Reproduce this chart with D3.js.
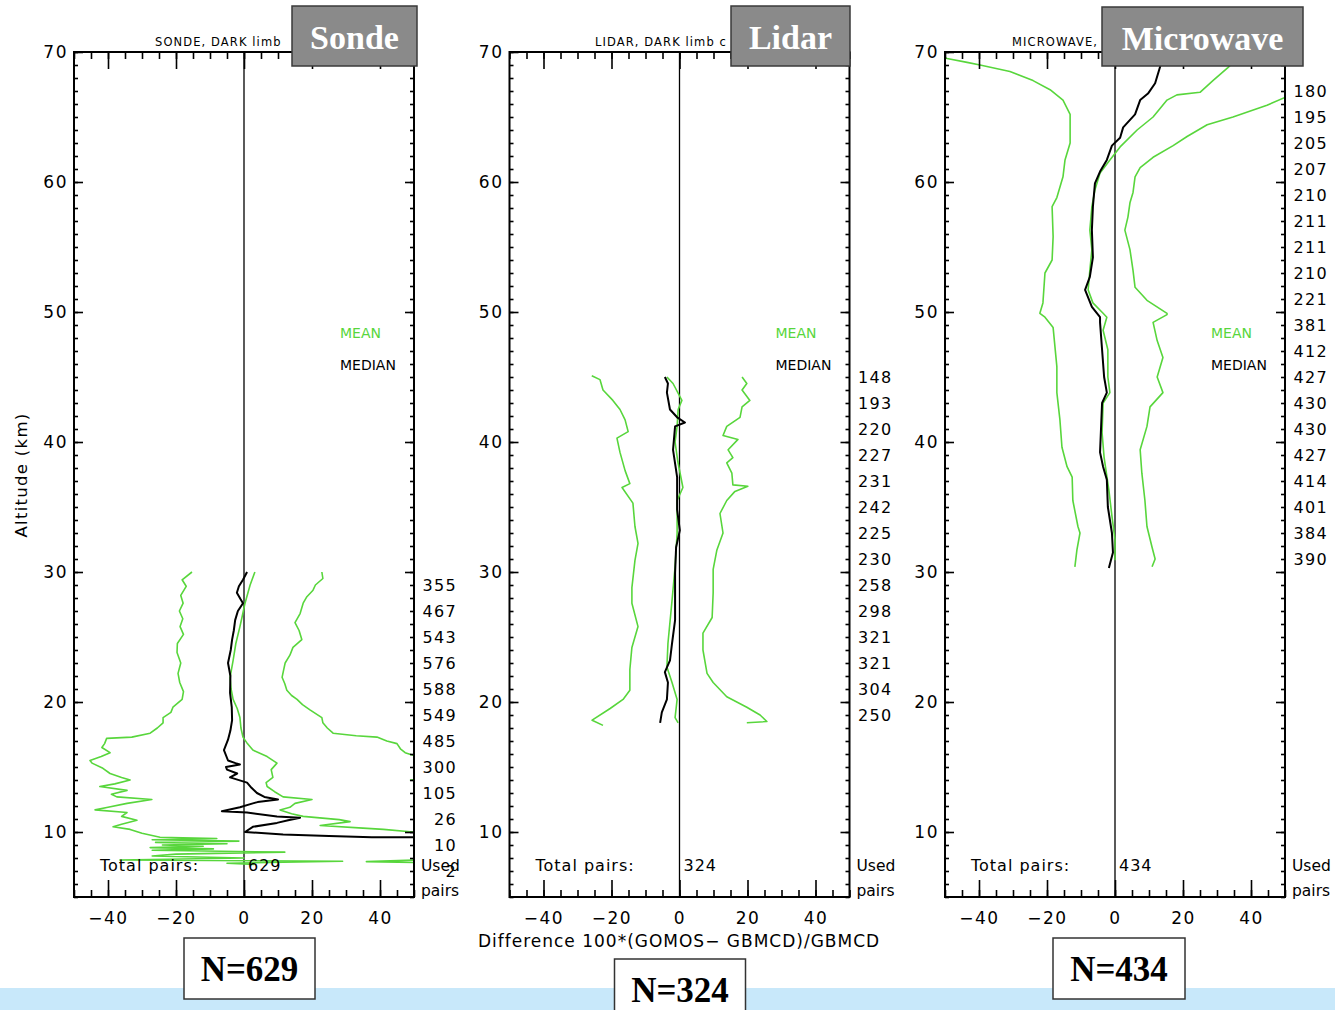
<!DOCTYPE html>
<html>
<head>
<meta charset="utf-8">
<script src="https://cdn.jsdelivr.net/npm/d3@7"></script>
<style>
  html, body { margin: 0; padding: 0; background: #ffffff; }
  svg { display: block; }
</style>
</head>
<body>
<svg id="chart" width="1335" height="1010" font-family="DejaVu Sans, sans-serif"></svg>
<script>
// ---- Data: relative difference profiles, [altitude km, difference %] ----
const sondeLow = [[30.0,-15.3],[29.4,-18.2],[28.9,-17.0],[28.2,-18.6],[27.6,-17.9],[27.0,-19.0],[26.4,-18.0],[25.8,-18.8],[25.2,-17.8],[24.5,-19.6],[23.8,-19.7],[23.0,-18.6],[22.2,-19.4],[21.5,-18.9],[20.8,-17.8],[20.2,-18.2],[19.6,-20.9],[19.2,-21.5],[18.8,-23.8],[18.4,-23.8],[18.0,-25.5],[17.6,-27.6],[17.3,-33],[17.2,-40.4],[16.8,-41],[16.5,-41.8],[16.1,-39.4],[15.8,-42],[15.5,-45.3],[15.3,-44.7],[14.9,-41.5],[14.5,-39.4],[14.2,-36],[14.0,-33.5],[13.7,-38],[13.5,-42.4],[13.2,-34.4],[12.9,-39],[12.7,-37.4],[12.5,-27.1],[12.2,-34.4],[11.9,-40],[11.7,-43.8],[11.5,-34.4],[11.2,-36],[10.9,-31.5],[10.6,-36],[10.4,-38.5],[10.2,-33.5],[9.9,-30],[9.6,-24.7],[9.5,-8],[9.4,-27],[9.3,-1.5],[9.2,-26],[9.1,-5],[9.0,-24],[8.9,-12],[8.8,-27.6],[8.7,-9],[8.6,-27],[8.45,12],[8.3,-20],[8.15,-27],[8.0,0],[7.85,-36.5],[7.75,29],[7.6,-5],[7.5,3]];
const sondeMean = [[30.0,3.2],[29.0,1.8],[27.6,0.3],[26.5,-0.6],[25.8,-1.2],[24.5,-2.4],[23.2,-3.2],[21.9,-4.1],[21.0,-3.8],[20.2,-3.2],[19.5,-2.0],[18.8,-1.2],[18.0,-0.9],[17.3,-0.3],[16.8,1.0],[16.3,2.6],[15.8,6.8],[15.3,9.7],[14.8,8.0],[14.2,8.5],[13.8,6.5],[13.5,6.8],[13.1,9],[12.7,11.5],[12.5,20],[12.2,15],[11.9,13.5],[11.7,10.6],[11.4,14],[11.2,17.4],[10.95,28],[10.8,31.2],[10.5,22.4],[10.3,35],[10.2,41],[10.0,49.7],[9.8,56],[9.0,65],[7.9,58],[7.72,36],[7.6,62]];
const sondeMedian = [[30.0,0.9],[29.4,-0.3],[28.9,-1.5],[28.4,-2.1],[27.9,-1.0],[27.6,-0.3],[27.0,-1.8],[26.3,-2.6],[25.5,-3.0],[24.8,-3.5],[24.0,-3.9],[23.0,-4.7],[22.0,-4.0],[20.7,-4.1],[19.6,-3.6],[18.6,-3.5],[17.8,-4.0],[17.1,-4.7],[16.3,-5.9],[15.5,-4.7],[15.3,-2.5],[15.2,-1.2],[15.0,-5.3],[14.8,-5.0],[14.5,-2.0],[14.2,-4.1],[13.8,0.9],[13.4,2.2],[13.0,3.8],[12.7,6],[12.5,10],[12.3,4],[12.2,2.6],[11.9,-1.2],[11.6,-6.5],[11.5,0.9],[11.2,9.7],[11.1,16.5],[10.9,13],[10.7,9.7],[10.4,2.6],[10.0,0.3],[9.8,11.5],[9.7,25],[9.6,37.6],[9.58,60]];
const sondeHigh = [[30.0,22.9],[29.5,23.2],[29.0,21.0],[28.6,20.3],[28.1,18.5],[27.6,17.4],[26.8,16.5],[26.1,15.0],[25.5,16.2],[24.8,17.0],[24.2,14.4],[23.6,13.5],[23.0,12.1],[22.4,11.6],[21.9,11.2],[21.4,12.0],[20.9,12.6],[20.5,14.0],[20.2,15.6],[19.8,17.2],[19.4,19.4],[18.8,22.9],[18.4,23.2],[18.0,24.5],[17.6,26.2],[17.4,33],[17.3,39.1],[17.0,42],[16.8,45],[16.4,46],[16.1,47.4],[15.9,49.7],[15.6,53],[14.3,56],[14.0,49],[13.8,56],[12.0,70]];

const lidarLow = [[45.1,-25.8],[44.8,-23.4],[44.0,-22.5],[43.2,-19.6],[42.5,-17.5],[41.7,-16.0],[40.8,-15.1],[40.3,-18.4],[39.2,-17.5],[37.8,-16.0],[36.8,-14.6],[36.5,-16.9],[35.3,-13.7],[33.5,-13.1],[32.2,-12.2],[30.9,-13.1],[28.8,-14.0],[27.6,-14.0],[25.8,-12.2],[24.2,-14.0],[22.5,-14.6],[20.9,-14.6],[20.2,-16.6],[19.5,-20.4],[18.6,-25.7],[18.2,-22.5]];
const lidarMean = [[45.0,-3.7],[44.5,-1.9],[43.2,0.7],[42.5,-0.4],[41.2,-0.7],[40.0,-1.3],[38.5,-0.5],[36.5,1.0],[35.5,-0.7],[33.0,-0.7],[30.4,-1.3],[27.8,-2.2],[24.5,-3.4],[22.7,-3.7],[21.5,-2.2],[20.2,-0.7],[18.8,-1.3],[18.4,-0.4]];
const lidarMedian = [[45.0,-4.3],[44.5,-3.4],[43.8,-3.7],[42.5,-2.8],[41.9,-0.7],[41.5,1.6],[41.2,-1.3],[39.4,-1.9],[37.3,-0.7],[34.8,-0.7],[33.2,0.1],[31.9,-1.0],[29.9,-1.3],[26.3,-1.3],[24.5,-2.2],[23.2,-2.8],[22.3,-4.3],[21.5,-3.4],[20.2,-3.7],[19.2,-5.2],[18.4,-5.7]];
const lidarHigh = [[45.0,18.4],[44.5,19.8],[44.0,18.4],[43.2,20.7],[42.7,18.4],[41.9,17.8],[41.2,13.9],[40.5,12.8],[40.2,17.2],[39.4,14.3],[38.8,15.7],[38.4,13.9],[37.6,15.4],[36.7,15.7],[36.6,20.1],[36.2,16.3],[35.5,13.9],[34.5,11.9],[33.0,12.8],[31.7,11.0],[30.2,9.9],[28.4,9.9],[26.5,9.6],[25.3,6.9],[24.0,6.9],[22.2,8.1],[21.5,9.9],[20.4,13.9],[19.6,19.8],[19.0,23.7],[18.5,25.7],[18.4,19.8]];

const mwLow = [[70.2,-55],[69.5,-49.4],[69.2,-43.5],[69.0,-39.7],[68.5,-30.9],[67.8,-24.1],[67.1,-19.1],[66.3,-15.3],[65.2,-13.2],[63.0,-13.2],[61.7,-14.7],[60.4,-15.3],[58.8,-17.1],[58.1,-18.5],[55.8,-18.2],[54.0,-18.5],[53.0,-20.6],[50.7,-21.2],[49.9,-22.1],[49.6,-20.6],[48.8,-18.2],[45.8,-17.1],[43.8,-17.1],[41.7,-16.2],[39.6,-15.6],[38.1,-14.1],[37.3,-12.6],[35.5,-12.4],[33.5,-10.9],[33.0,-10.3],[31.7,-11.2],[30.4,-11.8]];
const mwMean = [[70.0,38],[68.8,33.2],[67.8,28.8],[66.9,25.0],[66.7,18.2],[66.3,15.3],[65.0,11.2],[64.0,6.5],[62.7,1.5],[61.7,-1.5],[60.7,-4.4],[59.4,-5.9],[58.1,-6.8],[56.3,-7.4],[54.8,-6.8],[53.2,-7.4],[51.7,-7.9],[50.7,-6.5],[49.9,-3.5],[49.6,-2.4],[48.6,-3.5],[47.1,-2.1],[45.0,-2.1],[43.8,-1.5],[43.0,-3.5],[40.7,-3.8],[38.8,-3.2],[36.3,-1.8],[34.3,-0.9],[32.5,0.0],[30.9,0.0]];
const mwMedian = [[70.0,14.5],[68.8,13.2],[67.6,11.8],[66.8,9.7],[66.3,7.4],[65.2,5.9],[64.2,2.4],[63.4,1.5],[62.8,-0.9],[61.7,-2.4],[60.8,-4.4],[59.9,-5.9],[58.1,-6.5],[56.3,-6.8],[54.2,-6.5],[52.7,-7.4],[51.7,-8.8],[50.4,-6.8],[49.6,-4.4],[49.2,-4.4],[47.1,-3.8],[45.0,-3.2],[43.8,-2.4],[43.0,-3.8],[39.2,-4.4],[38.1,-3.5],[37.1,-2.4],[35.0,-2.1],[33.0,-0.9],[31.5,-0.6],[30.3,-1.8]];
const mwHigh = [[67.3,60],[66.5,50],[65.9,44.7],[65.0,34.7],[64.4,27.1],[63.5,21.2],[62.8,17.1],[61.9,11.2],[61.1,7.4],[60.4,5.9],[59.2,5.3],[58.4,4.4],[57.3,3.8],[56.3,2.9],[54.8,4.4],[53.2,5.3],[51.9,5.9],[50.9,9.4],[49.9,15.3],[49.8,15.3],[49.2,11.2],[47.8,12.4],[46.5,14.1],[45.0,12.4],[43.8,14.1],[42.7,10.3],[41.2,9.4],[39.4,7.4],[37.6,7.9],[35.5,8.8],[33.5,9.4],[31.9,10.9],[31.0,11.8],[30.4,10.9]];

// Used pairs per 2 km level
const sondePairAlt = [29,27,25,23,21,19,17,15,13,11,9,7];
const sondePairs   = [355,467,543,576,588,549,485,300,105,26,10,2];
const lidarPairAlt = [45,43,41,39,37,35,33,31,29,27,25,23,21,19];
const lidarPairs   = [148,193,220,227,231,242,225,230,258,298,321,321,304,250];
const mwPairAlt    = [67,65,63,61,59,57,55,53,51,49,47,45,43,41,39,37,35,33,31];
const mwPairs      = [180,195,205,207,210,211,211,210,221,381,412,427,430,430,427,414,401,384,390];

const panelNames    = ["Sonde", "Lidar", "Microwave"];
const panelCaptions = ["SONDE, DARK limb", "LIDAR, DARK limb c", "MICROWAVE,"];
const totalPairs    = [629, 324, 434];
const xTicksMajor   = [-40, -20, 0, 20, 40];
const yTicksMajor   = [10, 20, 30, 40, 50, 60, 70];

const GREEN = "#58d63c";
const SANS = "DejaVu Sans, sans-serif";
const SERIF = "Liberation Serif, serif";

// ---- Layout ----
const svg = d3.select("#chart");
const plotTop = 52, plotBottom = 897, plotW = 340;
const panelLeft = [74, 509.5, 945];
const boxes = [[292, 6, 125, 60], [731, 6, 119, 60], [1102, 7, 201, 59]];
const nBoxes = [[184, 938, 131, 61], [614.5, 959, 131, 60], [1053, 938, 132, 61]];
const captionX = [155, 595, 1012];

// light blue strip along the bottom edge
svg.append("rect").attr("x", 0).attr("y", 988).attr("width", 1335).attr("height", 22).attr("fill", "#c8e8fa");

const y = d3.scaleLinear().domain([5, 70]).range([plotBottom, plotTop]);

const panels = [
  { low: sondeLow, mean: sondeMean, median: sondeMedian, high: sondeHigh, pAlt: sondePairAlt, pairs: sondePairs },
  { low: lidarLow, mean: lidarMean, median: lidarMedian, high: lidarHigh, pAlt: lidarPairAlt, pairs: lidarPairs },
  { low: mwLow, mean: mwMean, median: mwMedian, high: mwHigh, pAlt: mwPairAlt, pairs: mwPairs }
];

const minus = s => String(s).replace("-", "\u2212");

panels.forEach((p, i) => {
  const L = panelLeft[i], R = L + plotW;
  const x = d3.scaleLinear().domain([-50, 50]).range([L, R]);
  const g = svg.append("g");

  const clipId = "clip" + i;
  svg.append("clipPath").attr("id", clipId)
    .append("rect").attr("x", L).attr("y", plotTop).attr("width", plotW).attr("height", plotBottom - plotTop);

  // caption above the frame
  g.append("text").attr("x", captionX[i]).attr("y", 46)
    .attr("font-size", 11.5).attr("letter-spacing", 1.1).attr("fill", "#000")
    .text(panelCaptions[i]);

  // zero reference line
  g.append("line").attr("x1", x(0)).attr("x2", x(0)).attr("y1", plotTop).attr("y2", plotBottom)
    .attr("stroke", "#000").attr("stroke-width", 1.3);

  // profiles
  const line = d3.line().x(d => x(d[1])).y(d => y(d[0]));
  const curves = g.append("g").attr("clip-path", `url(#${clipId})`).attr("fill", "none");
  [p.low, p.high, p.mean].forEach(s => {
    curves.append("path").attr("d", line(s)).attr("stroke", GREEN).attr("stroke-width", 1.6)
      .attr("stroke-linejoin", "round");
  });
  curves.append("path").attr("d", line(p.median)).attr("stroke", "#000").attr("stroke-width", 2)
    .attr("stroke-linejoin", "round");

  // axes: minor and major ticks pointing inward
  const xMinor = d3.range(-50, 51, 5);
  const yMinor = d3.range(5, 71, 1);
  const style = sel => {
    sel.attr("font-family", SANS);
    sel.select(".domain").remove();
    sel.selectAll("line").attr("stroke", "#000").attr("stroke-width", 1.6);
  };
  const labelStyle = s => s.selectAll("text").attr("font-size", 17).attr("letter-spacing", 1.5).attr("fill", "#000");

  g.append("g").attr("transform", `translate(0,${plotBottom})`)
    .call(d3.axisBottom(x).tickValues(xMinor).tickSize(-7).tickFormat(""))
    .call(style);
  g.append("g").attr("transform", `translate(0,${plotBottom})`)
    .call(d3.axisBottom(x).tickValues(xTicksMajor).tickSize(-17).tickPadding(15).tickFormat(minus))
    .call(style).call(labelStyle);
  g.append("g").attr("transform", `translate(0,${plotTop})`)
    .call(d3.axisTop(x).tickValues(xMinor).tickSize(-7).tickFormat(""))
    .call(style);
  g.append("g").attr("transform", `translate(0,${plotTop})`)
    .call(d3.axisTop(x).tickValues(xTicksMajor).tickSize(-17).tickFormat(""))
    .call(style);

  g.append("g").attr("transform", `translate(${L},0)`)
    .call(d3.axisLeft(y).tickValues(yMinor).tickSize(-4).tickFormat(""))
    .call(style);
  g.append("g").attr("transform", `translate(${L},0)`)
    .call(d3.axisLeft(y).tickValues(yTicksMajor).tickSize(-9).tickPadding(6))
    .call(style).call(labelStyle);
  g.append("g").attr("transform", `translate(${R},0)`)
    .call(d3.axisRight(y).tickValues(yMinor).tickSize(-4).tickFormat(""))
    .call(style);
  g.append("g").attr("transform", `translate(${R},0)`)
    .call(d3.axisRight(y).tickValues(yTicksMajor).tickSize(-9).tickFormat(""))
    .call(style);

  // frame
  g.append("rect").attr("x", L).attr("y", plotTop).attr("width", plotW).attr("height", plotBottom - plotTop)
    .attr("fill", "none").attr("stroke", "#000").attr("stroke-width", 2);

  // legend
  g.append("text").attr("x", x(0) + 96).attr("y", 338).attr("font-size", 14).attr("fill", GREEN).text("MEAN");
  g.append("text").attr("x", x(0) + 96).attr("y", 370).attr("font-size", 14).attr("fill", "#000").text("MEDIAN");

  // total pairs
  g.append("text").attr("x", L + 26).attr("y", 871).attr("font-size", 16).attr("letter-spacing", 1).text("Total pairs:");
  g.append("text").attr("x", x(0) + 4).attr("y", 871).attr("font-size", 16).attr("letter-spacing", 1).text(totalPairs[i]);

  // used pairs column
  g.selectAll("text.pairs").data(p.pairs).join("text").attr("class", "pairs")
    .attr("x", R + 43).attr("y", (d, k) => y(p.pAlt[k])).attr("dy", "0.38em")
    .attr("text-anchor", "end").attr("font-size", 16).attr("letter-spacing", 1.3).text(d => d);
  g.append("text").attr("x", R + 7).attr("y", 871).attr("font-size", 15.5).text("Used");
  g.append("text").attr("x", R + 7).attr("y", 896).attr("font-size", 15.5).text("pairs");

  // instrument name box
  const b = boxes[i];
  g.append("rect").attr("x", b[0]).attr("y", b[1]).attr("width", b[2]).attr("height", b[3])
    .attr("fill", "#8a8a8a").attr("stroke", "#3a3a3a").attr("stroke-width", 1.5);
  g.append("text").attr("x", b[0] + b[2] / 2).attr("y", b[1] + 43).attr("text-anchor", "middle")
    .attr("font-family", SERIF).attr("font-weight", "bold").attr("font-size", 34)
    .attr("fill", "#ffffff").text(panelNames[i]);

  // N box
  const nb = nBoxes[i];
  g.append("rect").attr("x", nb[0]).attr("y", nb[1]).attr("width", nb[2]).attr("height", nb[3])
    .attr("fill", "#ffffff").attr("stroke", "#333").attr("stroke-width", 1.5);
  g.append("text").attr("x", nb[0] + nb[2] / 2).attr("y", nb[1] + 43).attr("text-anchor", "middle")
    .attr("font-family", SERIF).attr("font-weight", "bold").attr("font-size", 35)
    .attr("fill", "#000").text("N=" + totalPairs[i]);
});

// shared axis titles
svg.append("text").attr("transform", "translate(27,475) rotate(-90)").attr("text-anchor", "middle")
  .attr("font-size", 16.5).attr("letter-spacing", 1.3).text("Altitude (km)");
svg.append("text").attr("x", 679).attr("y", 947).attr("text-anchor", "middle")
  .attr("font-size", 17).attr("letter-spacing", 1).text("Difference 100*(GOMOS\u2212 GBMCD)/GBMCD");
</script>
</body>
</html>
